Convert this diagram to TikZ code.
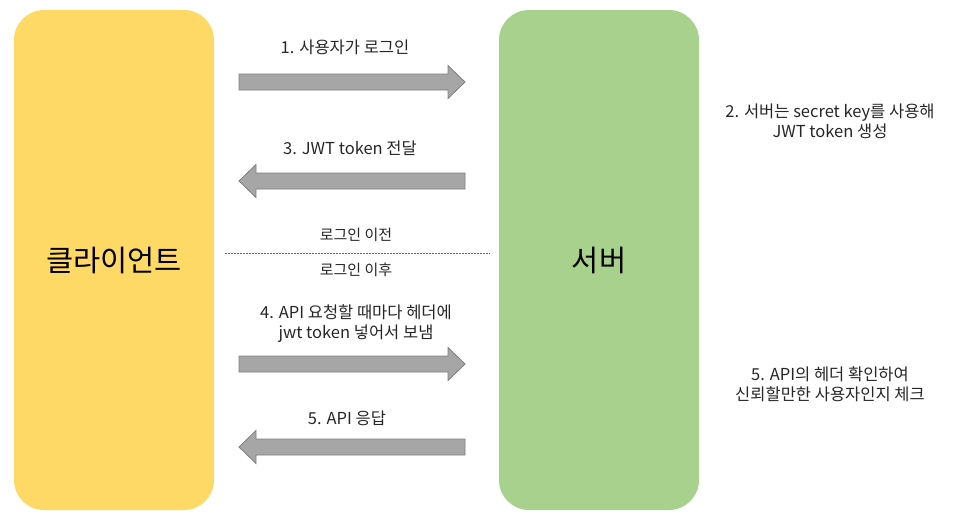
\documentclass[tikz,border=0pt]{standalone}
\usepackage{fontspec}
\setmainfont{Noto Sans CJK KR}
\usetikzlibrary{positioning}
\definecolor{clientyellow}{HTML}{FFD966}
\definecolor{servergreen}{HTML}{A9D18E}
\definecolor{arrowgray}{HTML}{A6A6A6}
\definecolor{arrowedge}{HTML}{7F7F7F}
\tikzset{
  party/.style={rounded corners=30pt, minimum width=200pt, minimum height=500pt,
    inner sep=0pt, font=\fontsize{29.5}{32}\selectfont},
  flow/.style={draw=arrowedge, fill=arrowgray, line width=0.8pt},
  note/.style={font=\fontsize{16.5}{20}\selectfont, align=center, text=black!85},
  divnote/.style={note, font=\fontsize{15}{17}\selectfont},
}
\begin{document}
\begin{tikzpicture}[x=1pt, y=-1pt]
  \useasboundingbox (0,0) rectangle (954,520);

  % Client and server
  \node[party, fill=clientyellow] (client) at (114,260) {클라이언트};
  \node[party, fill=servergreen] (server) at (599,260) {서버};

  % Block arrows: tail x / tip x / y (shaft 16, head 33 wide, 17 long)
  \foreach \tail/\tip/\y in {239/465/82, 465/239/181, 239/465/364, 465/239/447}{
    \pgfmathsetmacro{\base}{\tip-17*sign(\tip-\tail)}
    \draw[flow] (\tail,\y-8) -- (\base,\y-8) -- (\base,\y-16.5) -- (\tip,\y)
      -- (\base,\y+16.5) -- (\base,\y+8) -- (\tail,\y+8) -- cycle;
  }

  % Before login
  \node[note] (login) at (345,47) {1. 사용자가 로그인};
  \node[note] (keynote) at (830,121) {2. 서버는 secret key를 사용해\\JWT token 생성};
  \node[note] (token) at (350,148) {3. JWT token 전달};

  % Login divider
  \coordinate (divL) at (225,253);
  \coordinate (divR) at (490,253);
  \draw[dashed, dash pattern=on 2pt off 1pt, black!60, line width=0.6pt] (divL) -- (divR);
  \node[divnote] (before) at (356,235) {로그인 이전};
  \node[divnote] (after) at (356,270) {로그인 이후};

  % After login
  \node[note] (request) at (356,324) {4. API 요청할 때마다 헤더에\\jwt token 넣어서 보냄};
  \node[note] (check) at (830,384) {5. API의 헤더 확인하여\\신뢰할만한 사용자인지 체크};
  \node[note] (reply) at (347,418) {5. API 응답};

\end{tikzpicture}
\end{document}
